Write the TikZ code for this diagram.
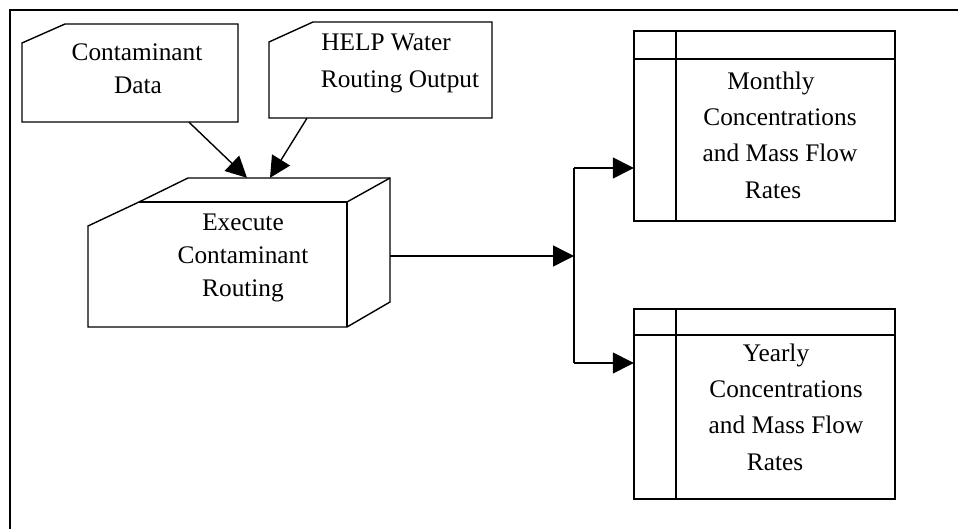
\documentclass[tikz,border=0pt]{standalone}
\usepackage{fontspec}
\setmainfont{Liberation Serif}
\usetikzlibrary{arrows.meta}
\begin{document}
\begin{tikzpicture}[x=1pt,y=-1pt,
  shape line/.style={line width=1.4pt, line join=miter},
  frame line/.style={line width=2pt},
  hold/.style={draw=none, rectangle, inner sep=0pt},
  txt/.style={font=\fontsize{25.3}{30}\selectfont, anchor=base, inner sep=0pt},
  arr/.style={line width=1.4pt, -{Triangle[length=21pt,width=21pt]}},
  conn/.style={line width=1.4pt}]
\useasboundingbox (0,0) rectangle (958,529);
% frame (top and left only)
\draw[frame line] (958,10) -- (10,10) -- (10,529);

% placeholder nodes for the shapes
\node[hold, minimum width=216pt, minimum height=98pt] (cd) at (130,73) {};
\node[hold, minimum width=223pt, minimum height=96pt] (help) at (380.5,70) {};
\node[hold, minimum width=302pt, minimum height=149pt] (ex) at (239,252.5) {};
\node[hold, minimum width=261pt, minimum height=190pt] (mon) at (764.5,126) {};
\node[hold, minimum width=261pt, minimum height=190pt] (yr) at (764.5,404) {};

% Contaminant Data (card)
\draw[shape line] (22,43) -- (65,24) -- (238,24) -- (238,122) -- (22,122) -- cycle;
% HELP Water Routing Output (card)
\draw[shape line] (269,42) -- (313,22) -- (492,22) -- (492,118) -- (269,118) -- cycle;
% Execute box (3D)
\draw[shape line] (88,226) -- (139,202) -- (188,178) -- (390,178) -- (390,302) -- (347,327) -- (88,327) -- cycle;
\draw[shape line] (139,202) -- (347,202) -- (347,327);
\draw[shape line] (347,202) -- (390,178);
% Monthly store
\draw[shape line] (634,31) rectangle (895,221);
\draw[shape line] (634,59) -- (895,59);
\draw[shape line] (676,31) -- (676,221);
% Yearly store
\draw[shape line] (634,309) rectangle (895,499);
\draw[shape line] (634,335) -- (895,335);
\draw[shape line] (676,309) -- (676,499);

% texts
\node[txt] (t1a) at (137,61) {Contaminant};
\node[txt] (t1b) at (138,94) {Data};
\node[txt] (t2a) at (386,51) {HELP Water};
\node[txt] (t2b) at (400,88) {Routing Output};
\node[txt] (t3a) at (243,231) {Execute};
\node[txt] (t3b) at (243,264) {Contaminant};
\node[txt] (t3c) at (243,297) {Routing};
\node[txt] (t4a) at (771,90) {Monthly};
\node[txt] (t4b) at (780,126) {Concentrations};
\node[txt] (t4c) at (780,162) {and Mass Flow};
\node[txt] (t4d) at (773,199) {Rates};
\node[txt] (t5a) at (776,361) {Yearly};
\node[txt] (t5b) at (786,397) {Concentrations};
\node[txt] (t5c) at (786,433) {and Mass Flow};
\node[txt] (t5d) at (775,470) {Rates};

% connectors
\draw[arr] ([xshift=59pt]cd.south) -- ([xshift=8pt]ex.north);
\draw[arr] ([xshift=-73.5pt]help.south) -- ([xshift=31pt]ex.north);
\coordinate (j) at (574,256);
\coordinate (jt) at (574,168);
\coordinate (jb) at (574,363);
\draw[arr] ([yshift=-3.5pt]ex.east) -- (j);
\draw[conn] (jt) -- (jb);
\draw[arr] (jt) -- (jt -| mon.west);
\draw[arr] (jb) -- (jb -| yr.west);
\end{tikzpicture}
\end{document}
